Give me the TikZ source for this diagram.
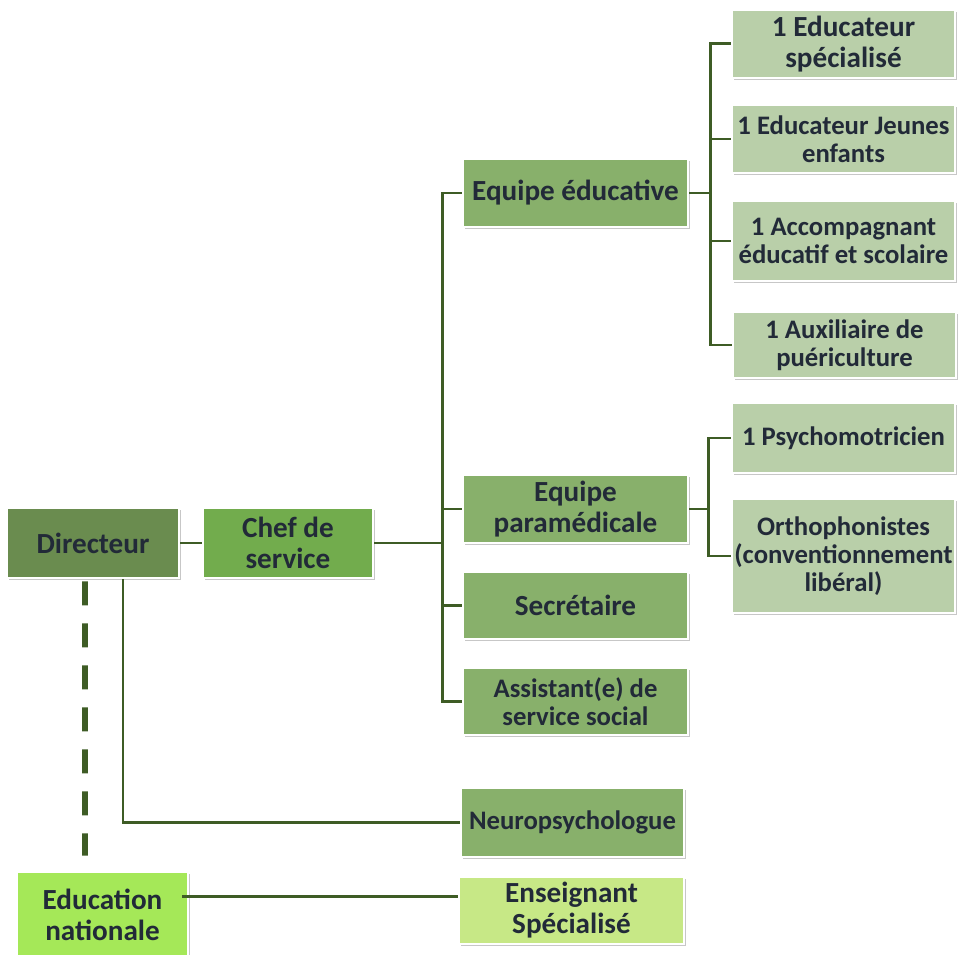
\documentclass[tikz,border=0pt]{standalone}
\usepackage{fontspec}
\setmainfont{Carlito}
\usepackage{xcolor}
\usepackage{tikz}
\usetikzlibrary{calc, shadows, positioning}

\definecolor{trait}{HTML}{3E5C25}
\definecolor{texte}{HTML}{222A38}
\definecolor{vertDir}{HTML}{6A8C4F}
\definecolor{vertChef}{HTML}{72AC4D}
\definecolor{vertEquipe}{HTML}{88B06B}
\definecolor{vertPoste}{HTML}{B9CFA9}
\definecolor{vertEN}{HTML}{A5E858}
\definecolor{vertEns}{HTML}{C7E886}

\tikzset{
  boite/.style={rectangle, draw=white, line width=1.6pt, inner sep=0pt,
    align=center, text=texte,
    drop shadow={shadow xshift=1.2pt, shadow yshift=-1.2pt, opacity=0.22, fill=black}},
  grand/.style={boite, font=\fontsize{16.6}{17.6}\selectfont\bfseries},
  petit/.style={boite, font=\fontsize{15.2}{16}\selectfont\bfseries},
  lien/.style={draw=trait, line width=1.7pt},
  pointille/.style={draw=trait, line width=3.4pt, dash pattern=on 0.48cm off 0.36cm}
}

\begin{document}
\begin{tikzpicture}[x=0.02cm, y=-0.02cm]
    \useasboundingbox (0,0) rectangle (966,955);

    % Direction
    \node[grand, fill=vertDir, minimum width=3.44cm, minimum height=1.4cm] (dir) at (93,543) {Directeur};
    \node[grand, fill=vertChef, minimum width=3.4cm, minimum height=1.4cm] (chef) at (288,543) {Chef de\\service};

    % Equipes
    \node[grand, fill=vertEquipe, minimum width=4.5cm, minimum height=1.36cm] (eqedu) at (575.5,193) {Equipe éducative};
    \node[grand, fill=vertEquipe, minimum width=4.5cm, minimum height=1.36cm] (param) at (575.5,509) {Equipe\\paramédicale};
    \node[grand, fill=vertEquipe, minimum width=4.5cm, minimum height=1.34cm] (secr) at (575.5,605.5) {Secrétaire};
    \node[petit, fill=vertEquipe, minimum width=4.5cm, minimum height=1.34cm] (assist) at (575.5,701.5) {Assistant(e) de\\service social};
    \node[petit, fill=vertEquipe, minimum width=4.46cm, minimum height=1.38cm] (neuro) at (572.5,822.5) {Neuropsychologue};

    % Postes de l'equipe educative
    \node[grand, fill=vertPoste, minimum width=4.46cm, minimum height=1.36cm] (educspe) at (843.5,44) {1 Educateur\\spécialisé};
    \node[petit, fill=vertPoste, minimum width=4.46cm, minimum height=1.36cm] (jeunes) at (843.5,139) {1 Educateur Jeunes\\enfants};
    \node[petit, fill=vertPoste, minimum width=4.46cm, minimum height=1.6cm] (accomp) at (843.5,241) {1 Accompagnant\\éducatif et scolaire};
    \node[petit, fill=vertPoste, minimum width=4.46cm, minimum height=1.32cm] (aux) at (844.5,345) {1 Auxiliaire de\\puériculture};

    % Postes paramedicaux
    \node[petit, fill=vertPoste, minimum width=4.46cm, minimum height=1.4cm] (psycho) at (843.5,438) {1 Psychomotricien};
    \node[petit, fill=vertPoste, minimum width=4.46cm, minimum height=2.28cm] (ortho) at (843.5,556) {Orthophonistes\\(conventionnement\\libéral)};

    % Education nationale
    \node[grand, fill=vertEN, minimum width=3.42cm, minimum height=1.72cm] (educ) at (102.5,915) {Education\\nationale};
    \node[grand, fill=vertEns, minimum width=4.5cm, minimum height=1.34cm] (ens) at (571.5,910.5) {Enseignant\\Spécialisé};

    % Liaisons
    \coordinate (tr) at (442,543);
    \coordinate (ed) at (710,193);
    \coordinate (pm) at (708,509);
    \draw[lien] (dir.east) -- (chef.west);
    \draw[lien] (chef.east) -- (tr);
    \draw[lien] (eqedu.west) -| (tr);
    \draw[lien] (assist.west) -| (tr);
    \draw[lien] (param.west) -- (param.west -| tr);
    \draw[lien] (secr.west) -- (secr.west -| tr);

    \draw[lien] (eqedu.east) -- (ed);
    \draw[lien] (educspe.west) -| (ed);
    \draw[lien] (aux.west) -| (ed);
    \draw[lien] (jeunes.west) -- (jeunes.west -| ed);
    \draw[lien] (accomp.west) -- (accomp.west -| ed);

    \draw[lien] (param.east) -- (pm);
    \draw[lien] (psycho.west) -| (pm);
    \draw[lien] (ortho.west) -| (pm);

    \draw[lien] ([xshift=0.6cm]dir.south) |- (neuro.west);
    \draw[pointille] ([xshift=-0.16cm, yshift=-0.04cm]dir.south) -- ([xshift=-0.35cm, yshift=0.3cm]educ.north);

    \coordinate (en) at ([xshift=-0.14cm, yshift=0.38cm]educ.east);
    \draw[lien] (en) -- (en -| ens.west);
\end{tikzpicture}
\end{document}
